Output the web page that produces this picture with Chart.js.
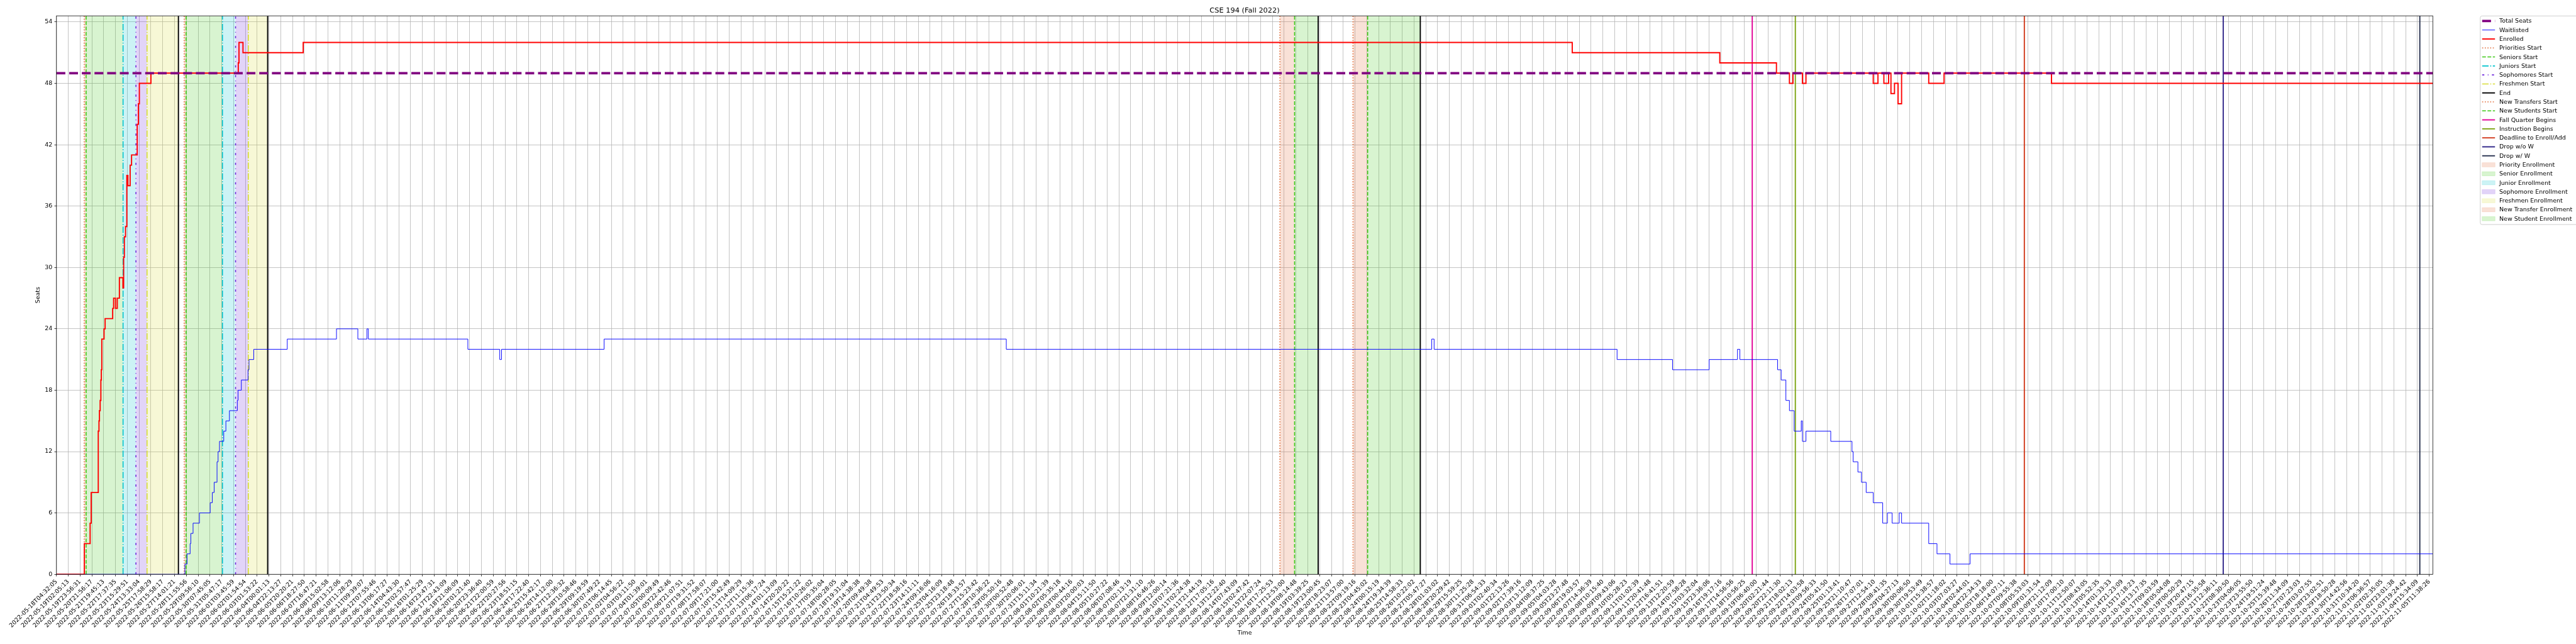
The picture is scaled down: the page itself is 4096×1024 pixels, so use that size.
<!DOCTYPE html>
<html><head><meta charset="utf-8">
<style>html,body{margin:0;padding:0;background:#fff;overflow:hidden}canvas{display:block}</style>
<script src="https://cdn.jsdelivr.net/npm/chart.js@4.4.0/dist/chart.umd.min.js"></script>
</head><body>
<canvas id="c" width="4096" height="1024" style="width:4096px;height:1024px"></canvas>
<script>
// ---------------- DATA ----------------
const tickLabels = [
"2022-05-18T04:32:05","2022-05-19T02:05:13","2022-05-19T23:56:31","2022-05-20T21:56:17","2022-05-21T19:45:13","2022-05-22T17:37:35","2022-05-23T15:29:51","2022-05-24T13:33:04","2022-05-25T17:58:29","2022-05-26T15:58:17",
"2022-05-27T14:01:21","2022-05-28T11:55:56","2022-05-29T09:56:10","2022-05-30T07:45:05","2022-05-31T05:47:17","2022-06-01T03:45:59","2022-06-02T01:54:54","2022-06-03T01:53:22","2022-06-04T00:01:13","2022-06-04T22:13:27",
"2022-06-05T20:20:21","2022-06-06T18:27:50","2022-06-07T16:47:21","2022-06-08T15:02:58","2022-06-09T13:12:06","2022-06-10T11:28:29","2022-06-11T09:39:07","2022-06-12T07:55:46","2022-06-13T06:17:27","2022-06-14T04:43:30",
"2022-06-15T02:57:47","2022-06-16T01:25:29","2022-06-16T23:47:31","2022-06-17T22:43:09","2022-06-18T21:06:09","2022-06-20T01:21:40","2022-06-20T23:36:40","2022-06-21T22:00:59","2022-06-22T20:27:56","2022-06-23T18:51:15",
"2022-06-24T17:22:40","2022-06-25T15:42:17","2022-06-26T14:12:00","2022-06-27T12:36:32","2022-06-28T10:58:46","2022-06-29T09:19:59","2022-06-30T07:49:22","2022-07-01T06:14:45","2022-07-02T04:56:22","2022-07-03T03:11:50",
"2022-07-04T01:39:01","2022-07-05T00:09:49","2022-07-05T22:42:46","2022-07-06T21:07:51","2022-07-07T19:31:52","2022-07-08T17:58:07","2022-07-09T17:21:00","2022-07-10T15:42:49","2022-07-11T14:09:29","2022-07-12T11:15:36",
"2022-07-13T06:17:24","2022-07-14T01:13:09","2022-07-14T20:20:22","2022-07-15T15:21:22","2022-07-16T10:26:02","2022-07-17T05:35:04","2022-07-18T00:28:05","2022-07-18T19:31:04","2022-07-19T14:38:38","2022-07-20T09:49:38",
"2022-07-21T04:49:53","2022-07-21T23:50:34","2022-07-22T18:58:16","2022-07-23T14:11:11","2022-07-24T09:16:06","2022-07-25T04:16:09","2022-07-25T23:18:48","2022-07-26T18:33:57","2022-07-27T15:23:42","2022-07-28T10:36:22",
"2022-07-29T05:50:16","2022-07-30T00:52:48","2022-07-30T20:06:01","2022-07-31T15:11:34","2022-08-01T10:21:39","2022-08-02T05:35:18","2022-08-03T00:44:16","2022-08-03T20:00:03","2022-08-04T15:11:50","2022-08-05T10:27:22",
"2022-08-06T07:08:46","2022-08-07T02:13:19","2022-08-07T21:31:10","2022-08-08T16:46:26","2022-08-09T12:00:14","2022-08-10T07:21:36","2022-08-11T02:24:38","2022-08-11T21:44:19","2022-08-12T17:05:16","2022-08-13T12:22:40",
"2022-08-14T07:43:09","2022-08-15T02:47:42","2022-08-15T22:07:24","2022-08-16T17:25:53","2022-08-17T12:53:00","2022-08-18T08:14:48","2022-08-19T03:39:25","2022-08-19T23:00:45","2022-08-20T18:23:07","2022-08-21T13:57:00",
"2022-08-22T09:19:16","2022-08-23T04:45:02","2022-08-24T00:15:19","2022-08-24T19:34:39","2022-08-25T14:58:33","2022-08-26T10:22:02","2022-08-27T05:47:27","2022-08-28T01:03:02","2022-08-28T20:29:42","2022-08-29T15:59:25",
"2022-08-30T11:25:28","2022-08-31T06:54:33","2022-09-01T02:40:34","2022-09-01T22:13:26","2022-09-02T17:39:16","2022-09-03T13:12:09","2022-09-04T08:37:25","2022-09-05T04:03:28","2022-09-05T23:27:48","2022-09-06T19:03:57",
"2022-09-07T14:36:39","2022-09-08T10:15:40","2022-09-09T09:43:06","2022-09-10T05:28:23","2022-09-11T01:02:39","2022-09-11T20:41:48","2022-09-12T16:41:51","2022-09-13T12:20:59","2022-09-14T07:58:28","2022-09-15T03:32:04",
"2022-09-15T23:36:06","2022-09-16T19:17:16","2022-09-17T14:56:56","2022-09-18T10:56:25","2022-09-19T06:40:00","2022-09-20T02:21:44","2022-09-20T22:11:30","2022-09-21T18:02:13","2022-09-22T14:03:58","2022-09-23T09:56:33",
"2022-09-24T05:41:50","2022-09-25T01:13:41","2022-09-25T21:10:47","2022-09-26T17:07:01","2022-09-27T12:54:10","2022-09-28T08:41:35","2022-09-29T04:27:13","2022-09-30T00:06:50","2022-09-30T19:53:49","2022-10-01T15:38:57",
"2022-10-02T11:18:02","2022-10-03T07:03:27","2022-10-04T02:44:01","2022-10-04T22:34:33","2022-10-05T18:18:00","2022-10-06T14:07:11","2022-10-07T09:55:38","2022-10-08T05:53:03","2022-10-09T01:31:54","2022-10-09T21:12:09",
"2022-10-10T17:00:10","2022-10-11T12:50:07","2022-10-12T08:43:05","2022-10-13T05:52:35","2022-10-14T01:33:33","2022-10-14T21:23:09","2022-10-15T17:18:23","2022-10-16T13:17:35","2022-10-17T09:03:59","2022-10-18T05:04:08",
"2022-10-19T00:50:29","2022-10-19T20:47:15","2022-10-20T16:35:58","2022-10-21T12:36:11","2022-10-22T08:30:50","2022-10-23T04:06:05","2022-10-23T23:55:50","2022-10-24T19:51:24","2022-10-25T15:39:48","2022-10-26T11:34:09",
"2022-10-27T07:23:03","2022-10-28T03:07:55","2022-10-28T23:02:51","2022-10-29T18:50:28","2022-10-30T14:42:56","2022-10-31T10:34:20","2022-11-01T06:36:57","2022-11-02T02:35:05","2022-11-02T23:01:38","2022-11-03T19:24:42",
"2022-11-04T15:34:09","2022-11-05T11:38:26"];
const yTicks = [0, 6, 12, 18, 24, 30, 36, 42, 48, 54];
const totalSeats = 49;

// x positions are in tick-label units (position 0 = first label)
const enrolledT = [0, 2.36, 2.85, 2.94, 3.54, 3.60, 3.64, 3.70, 3.76, 3.80, 3.84, 4.03, 4.12, 4.76, 4.84, 5.00, 5.15, 5.33, 5.63, 5.69, 5.75, 5.85, 5.96, 6.05, 6.24, 6.36, 6.84, 6.94, 7.02, 8.00,
  15.40, 15.46, 15.80, 20.9, 128.4, 140.9, 145.7, 146.8, 147.1, 147.9, 148.2, 153.9, 154.3, 154.8, 155.2, 155.4, 155.7, 156.0, 156.3, 158.6, 159.9, 169.0, 201.3];
const enrolledV = [0, 3, 5, 8, 14, 15, 16, 17, 19, 20, 23, 24, 25, 26, 27, 26, 27, 29, 28, 31, 33, 34, 39, 38, 40, 41, 44, 46, 48, 49,
  50, 52, 51, 52, 51, 50, 49, 48, 49, 48, 49, 48, 49, 48, 49, 47, 48, 46, 49, 48, 49, 48, 48];

const waitT = [0, 10.88, 11.06, 11.32, 11.38, 11.57, 12.11, 13.02, 13.20, 13.36, 13.60, 13.69, 13.81, 14.17, 14.35, 14.65, 15.32, 15.38, 15.66, 16.23, 16.31, 16.71,
  19.55, 23.72, 25.53, 26.30, 26.42, 34.85, 37.55, 37.70, 46.39, 80.46, 116.5, 116.7, 132.2, 136.9, 140.0, 142.4, 142.6,
  145.8, 146.1, 146.5, 146.8, 147.2, 147.8, 147.9, 148.2, 150.3, 152.1, 152.2, 152.6, 152.9, 153.3, 153.9, 154.7, 155.1, 155.5, 156.1, 156.3, 158.6, 159.3, 160.4, 162.1, 201.3];
const waitV = [0, 1, 2, 3, 4, 5, 6, 7, 8, 9, 11, 12, 13, 14, 15, 16, 17, 18, 19, 20, 21, 22,
  23, 24, 23, 24, 23, 22, 21, 22, 23, 22, 23, 22, 21, 20, 21, 22, 21,
  20, 19, 17, 16, 14, 15, 13, 14, 13, 12, 11, 10, 9, 8, 7, 5, 6, 5, 6, 5, 3, 2, 1, 2, 2];

// event markers (tick-label units)
const round1Starts = [2.35, 2.51, 5.64, 6.73, 7.67];   // priority, senior, junior, sophomore, freshmen
const round1End = 10.33;
const round2Starts = [10.82, 10.98, 14.06, 15.17, 16.25];
const round2End = 17.89;
const newRound1Starts = [103.64, 104.88];               // new transfers, new students
const newRound1End = 106.88;
const newRound2Starts = [109.83, 111.07];
const newRound2End = 115.53;
const fallQuarterBegins = 143.65;
const instructionBegins = 147.3;
const deadlineEnrollAdd = 166.7;
const dropNoW = 183.55;
const dropW = 200.2;

// ---------------- STYLE ----------------
const S = 0.682;
const X_MAX = 201.3, Y_MAX = 54.6;
const FONT = 'DejaVu Sans';
const LW = 1.6;
const C = {
  prio: [224, 106, 53], senior: [60, 200, 20], junior: [0, 195, 205], soph: [110, 40, 220], fresh: [215, 220, 50],
  end: [0, 0, 0], fall: [225, 0, 150], instr: [125, 165, 20], deadline: [210, 60, 30], dropNoW: [45, 35, 135], dropW: [40, 50, 80]
};
const rgb = (c, a = 1) => `rgba(${c[0]},${c[1]},${c[2]},${a})`;
const DOT = [LW, LW * 1.65], DASH = [LW * 3.7, LW * 1.6], DASHDOT = [LW * 6.4, LW * 1.6, LW, LW * 1.6];
const SOPHDASH = [3.4, 5.5, 1.1, 5.5];
const startStyles = [
  { c: C.prio, d: DOT }, { c: C.senior, d: DASH }, { c: C.junior, d: DASHDOT }, { c: C.soph, d: SOPHDASH }, { c: C.fresh, d: DASHDOT }
];

function vline(t, c, dash, w) {
  return { data: [{ x: t, y: 0 }, { x: t, y: Y_MAX }], borderColor: rgb(c), borderDash: dash, borderWidth: w,
    pointRadius: 0, fill: false, order: 5 };
}
function span(t0, t1, c) {
  return { data: [{ x: t0, y: Y_MAX }, { x: t1, y: Y_MAX }], borderWidth: 0, borderColor: 'rgba(0,0,0,0)',
    backgroundColor: rgb(c, 0.2), fill: 'origin', pointRadius: 0, order: 20 };
}

const datasets = [];
datasets.push({ label: 'Total Seats', data: [{ x: 0, y: totalSeats }, { x: X_MAX, y: totalSeats }], borderColor: 'rgb(128,0,128)',
  borderWidth: 5.56 * S, borderDash: [14.07, 6.08], pointRadius: 0, fill: false, order: 0 });
datasets.push({ label: 'Enrolled', data: enrolledT.map((t, i) => ({ x: t, y: enrolledV[i] })), borderColor: 'rgb(255,0,0)',
  borderWidth: 2.78 * S, stepped: true, pointRadius: 0, fill: false, order: 1 });
datasets.push({ label: 'Waitlisted', data: waitT.map((t, i) => ({ x: t, y: waitV[i] })), borderColor: 'rgb(0,0,255)',
  borderWidth: 1.39 * S, stepped: true, pointRadius: 0, fill: false, order: 2 });

[[round1Starts, round1End], [round2Starts, round2End]].forEach(([st, en]) => {
  st.forEach((t, i) => {
    const next = i < st.length - 1 ? st[i + 1] : en;
    datasets.push(span(t, next, startStyles[i].c));
    datasets.push(vline(t, startStyles[i].c, startStyles[i].d, LW));
  });
  datasets.push(vline(en, C.end, [], 1.9));
});
[[newRound1Starts, newRound1End], [newRound2Starts, newRound2End]].forEach(([st, en]) => {
  datasets.push(span(st[0], st[1], C.prio));
  datasets.push(span(st[1], en, C.senior));
  datasets.push(vline(st[0], C.prio, DOT, LW));
  datasets.push(vline(st[1], C.senior, DASH, LW));
  datasets.push(vline(en, C.end, [], 1.9));
});
datasets.push(vline(fallQuarterBegins, C.fall, [], 1.9));
datasets.push(vline(instructionBegins, C.instr, [], 1.9));
datasets.push(vline(deadlineEnrollAdd, C.deadline, [], 1.9));
datasets.push(vline(dropNoW, C.dropNoW, [], 1.9));
datasets.push(vline(dropW, C.dropW, [], 1.9));

// legend entries
const legendItems = [
  { t: 'Total Seats', type: 'line', c: [128, 0, 128], w: 5.56 * S, d: [14.07, 6.08] },
  { t: 'Waitlisted', type: 'line', c: [0, 0, 255], w: 1.39 * S, d: [] },
  { t: 'Enrolled', type: 'line', c: [255, 0, 0], w: 2.78 * S, d: [] },
  { t: 'Priorities Start', type: 'line', c: C.prio, w: LW, d: DOT },
  { t: 'Seniors Start', type: 'line', c: C.senior, w: LW, d: DASH },
  { t: 'Juniors Start', type: 'line', c: C.junior, w: LW, d: DASHDOT },
  { t: 'Sophomores Start', type: 'line', c: C.soph, w: LW, d: SOPHDASH },
  { t: 'Freshmen Start', type: 'line', c: C.fresh, w: LW, d: DASHDOT },
  { t: 'End', type: 'line', c: C.end, w: 1.9, d: [] },
  { t: 'New Transfers Start', type: 'line', c: C.prio, w: LW, d: DOT },
  { t: 'New Students Start', type: 'line', c: C.senior, w: LW, d: DASH },
  { t: 'Fall Quarter Begins', type: 'line', c: C.fall, w: 1.9, d: [] },
  { t: 'Instruction Begins', type: 'line', c: C.instr, w: 1.9, d: [] },
  { t: 'Deadline to Enroll/Add', type: 'line', c: C.deadline, w: 1.9, d: [] },
  { t: 'Drop w/o W', type: 'line', c: C.dropNoW, w: 1.9, d: [] },
  { t: 'Drop w/ W', type: 'line', c: C.dropW, w: 1.9, d: [] },
  { t: 'Priority Enrollment', type: 'patch', c: C.prio },
  { t: 'Senior Enrollment', type: 'patch', c: C.senior },
  { t: 'Junior Enrollment', type: 'patch', c: C.junior },
  { t: 'Sophomore Enrollment', type: 'patch', c: C.soph },
  { t: 'Freshmen Enrollment', type: 'patch', c: C.fresh },
  { t: 'New Transfer Enrollment', type: 'patch', c: C.prio },
  { t: 'New Student Enrollment', type: 'patch', c: C.senior }
];

const decor = {
  id: 'decor',
  afterDraw(chart) {
    const ctx = chart.ctx, a = chart.chartArea;
    ctx.save();
    ctx.strokeStyle = '#000'; ctx.lineWidth = 0.76;
    ctx.strokeRect(a.left, a.top, a.right - a.left, a.bottom - a.top);
    ctx.fillStyle = '#000';
    ctx.font = `${16.67 * S}px "${FONT}"`;
    ctx.textAlign = 'center'; ctx.textBaseline = 'alphabetic';
    ctx.fillText('CSE 194 (Fall 2022)', (a.left + a.right) / 2, 20.0);
    const lx = 3943.8, ly = 25.4, lh = 357 - 25.4;
    ctx.beginPath();
    ctx.roundRect(lx, ly, 400, lh, 2.7);
    ctx.fillStyle = 'rgba(255,255,255,0.8)'; ctx.fill();
    ctx.strokeStyle = 'rgb(204,204,204)'; ctx.lineWidth = 0.95; ctx.stroke();
    ctx.font = `${13.89 * S}px "${FONT}"`;
    ctx.textAlign = 'left'; ctx.textBaseline = 'middle';
    legendItems.forEach((it, i) => {
      const y = 33.4 + i * 14.29;
      const x0 = 3946.8, x1 = 3967.2;
      if (it.type === 'line') {
        ctx.beginPath();
        ctx.setLineDash(it.d); ctx.lineDashOffset = 0;
        ctx.strokeStyle = rgb(it.c); ctx.lineWidth = it.w; ctx.lineCap = 'butt';
        ctx.moveTo(x0, y); ctx.lineTo(x1, y); ctx.stroke();
        ctx.setLineDash([]);
      } else {
        ctx.fillStyle = rgb(it.c, 0.2);
        ctx.fillRect(x0, y - 3.3, x1 - x0, 6.6);
        ctx.strokeStyle = rgb(it.c, 0.2); ctx.lineWidth = 0.7;
        ctx.strokeRect(x0, y - 3.3, x1 - x0, 6.6);
      }
      ctx.fillStyle = '#000';
      ctx.fillText(it.t, 3974, y + 0.5);
    });
    ctx.restore();
  }
};

const tickFont = { family: FONT, size: 13.89 * S };
new Chart(document.getElementById('c'), {
  type: 'line',
  data: { datasets },
  plugins: [decor],
  options: {
    responsive: false, animation: false, devicePixelRatio: 1,
    layout: { padding: { left: 0, top: 25.2, right: 4096 - 3868.3, bottom: 0 } },
    plugins: { legend: { display: false }, tooltip: { enabled: false }, title: { display: false } },
    elements: { line: { tension: 0 } },
    scales: {
      x: {
        type: 'linear', min: 0, max: X_MAX,
        afterBuildTicks: s => { s.ticks = tickLabels.map((_, i) => ({ value: i })); },
        afterFit: s => { s.height = 1024 - 913.2; },
        ticks: { autoSkip: false, minRotation: 45, maxRotation: 45, color: '#000', font: tickFont, padding: 3.0,
          callback: v => tickLabels[Math.round(v)] },
        grid: { color: '#b0b0b0', lineWidth: 0.75, drawTicks: true, tickLength: 3.3, tickColor: '#000', tickWidth: 0.75 },
        border: { display: false },
        title: { display: true, text: 'Time', color: '#000', font: tickFont, padding: { top: 0, bottom: 11.3 } }
      },
      y: {
        type: 'linear', min: 0, max: Y_MAX,
        afterBuildTicks: s => { s.ticks = yTicks.map(v => ({ value: v })); },
        afterFit: s => { s.width = 89.8; },
        ticks: { color: '#000', font: tickFont, padding: 3.3, callback: v => String(v) },
        grid: { color: '#b0b0b0', lineWidth: 0.75, drawTicks: true, tickLength: 3.3, tickColor: '#000', tickWidth: 0.75 },
        border: { display: false },
        title: { display: true, text: 'Seats', color: '#000', font: tickFont, padding: { top: 55.3, bottom: 0 } }
      }
    }
  }
});
</script></body></html>
